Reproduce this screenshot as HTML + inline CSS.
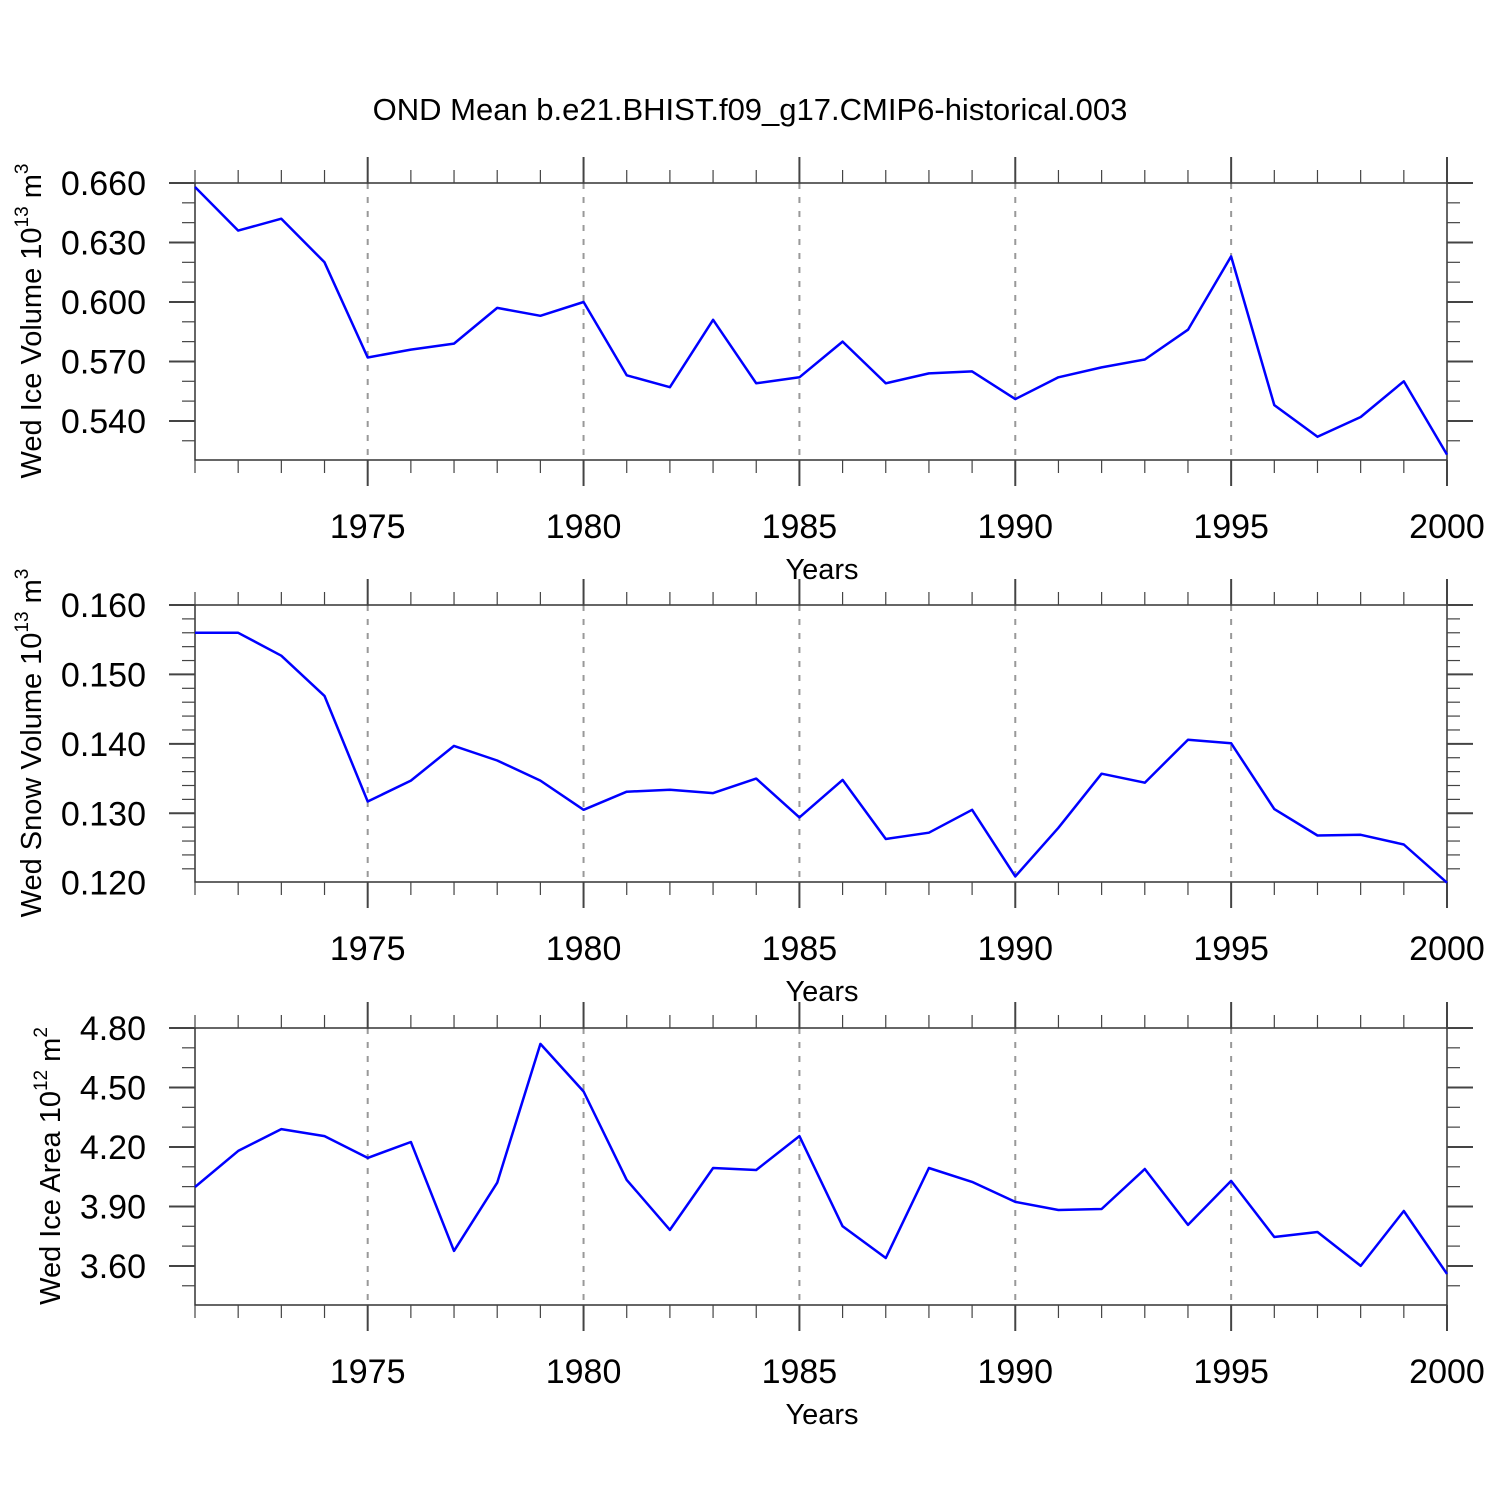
<!DOCTYPE html>
<html><head><meta charset="utf-8"><style>
html,body{margin:0;padding:0;background:#fff;}
svg{display:block;font-family:"Liberation Sans",sans-serif;}
</style></head><body>
<svg id="chart" width="1500" height="1500" viewBox="0 0 1500 1500" xmlns="http://www.w3.org/2000/svg">
<rect width="1500" height="1500" fill="#fff"/>
<text x="750" y="120" font-size="31" text-anchor="middle">OND Mean b.e21.BHIST.f09_g17.CMIP6-historical.003</text>
</svg>
<script>
const years = [1971,1972,1973,1974,1975,1976,1977,1978,1979,1980,1981,1982,1983,1984,1985,1986,1987,1988,1989,1990,1991,1992,1993,1994,1995,1996,1997,1998,1999,2000];
const iceVolume = [0.658,0.636,0.642,0.620,0.572,0.576,0.579,0.597,0.593,0.600,0.563,0.557,0.591,0.559,0.562,0.580,0.559,0.564,0.565,0.551,0.562,0.567,0.571,0.586,0.623,0.548,0.532,0.542,0.560,0.523];
const snowVolume = [0.1560,0.1560,0.1527,0.1469,0.1317,0.1347,0.1397,0.1376,0.1347,0.1305,0.1331,0.1334,0.1329,0.1350,0.1294,0.1348,0.1263,0.1272,0.1305,0.1209,0.1279,0.1357,0.1344,0.1406,0.1401,0.1306,0.1268,0.1269,0.1255,0.1200];
const iceArea = [3.998,4.18,4.29,4.255,4.145,4.225,3.676,4.02,4.72,4.48,4.034,3.782,4.094,4.084,4.255,3.80,3.64,4.094,4.024,3.923,3.882,3.887,4.089,3.807,4.029,3.746,3.771,3.60,3.877,3.56];
const xTickLabels = [1975,1980,1985,1990,1995,2000];
const iceVolumeTicks = [0.540,0.570,0.600,0.630,0.660];
const snowVolumeTicks = [0.120,0.130,0.140,0.150,0.160];
const iceAreaTicks = [3.60,3.90,4.20,4.50,4.80];

const NS = "http://www.w3.org/2000/svg";
const svg = document.getElementById('chart');
const X0 = 195, X1 = 1447;
function xs(yr){ return X0 + (yr - 1971) / (2000 - 1971) * (X1 - X0); }
function mk(tag, attrs, parent){
  const e = document.createElementNS(NS, tag);
  for (const k in attrs) e.setAttribute(k, attrs[k]);
  (parent || svg).appendChild(e);
  return e;
}

function panel(o){
  const g = mk('g', {});
  
  
  const top = o.top, bot = o.top + 277;
  const ys = v => top + (o.ymax - v) / (o.ymax - o.ymin) * (bot - top);
  xTickLabels.forEach(yr => {
    if (yr === 2000) return;
    const l = mk('line', {x1: xs(yr), x2: xs(yr), y1: top, y2: bot, stroke: '#999', 'stroke-width': 2, 'stroke-dasharray': '6,8'}, g);
    
    
  });
  const fr = mk('rect', {x: X0, y: top, width: X1 - X0, height: bot - top, fill: 'none', stroke: '#333', 'stroke-width': 1.5}, g);
  
  
  years.forEach(yr => {
    const major = yr % 5 === 0;
    const len = major ? 26 : 13;
    const x = xs(yr);
    mk('line', {x1: x, x2: x, y1: top, y2: top - len, stroke: '#444', 'stroke-width': major ? 2 : 1.2}, g);
    mk('line', {x1: x, x2: x, y1: bot, y2: bot + len, stroke: '#444', 'stroke-width': major ? 2 : 1.2}, g);
  });
  xTickLabels.forEach(yr => {
    const t = mk('text', {x: xs(yr), y: bot + 78, 'font-size': 34, 'text-anchor': 'middle'}, g);
    t.textContent = yr;
    
    
  });
  const step = o.ticks[1] - o.ticks[0];
  const mstep = step / o.sub;
  for (let v = o.ticks[o.ticks.length - 1]; v >= o.ymin - 1e-9; v -= mstep) {
    const y = ys(v);
    const isMajor = o.ticks.some(t => Math.abs(t - v) < mstep / 10);
    const len = isMajor ? 26 : 13;
    mk('line', {x1: X0, x2: X0 - len, y1: y, y2: y, stroke: '#444', 'stroke-width': isMajor ? 2 : 1.2}, g);
    mk('line', {x1: X1, x2: X1 + len, y1: y, y2: y, stroke: '#444', 'stroke-width': isMajor ? 2 : 1.2}, g);
  }
  o.ticks.forEach(v => {
    const t = mk('text', {x: 146, y: ys(v) + 12, 'font-size': 34, 'text-anchor': 'end'}, g);
    t.textContent = v.toFixed(o.dec);
    
    
  });
  const xt = mk('text', {x: 822, y: bot + 119, 'font-size': 29, 'text-anchor': 'middle'}, g);
  xt.textContent = 'Years';
  
  
  const yt = mk('text', {x: 0, y: 0, 'font-size': 29, 'text-anchor': 'middle', transform: `translate(${o.ytx},${top + o.yc}) rotate(-90)`}, g);
  yt.innerHTML = o.ytitle;
  
  
  const pts = years.map((yr, i) => xs(yr).toFixed(1) + ',' + ys(o.data[i]).toFixed(1)).join(' ');
  const pl = mk('polyline', {points: pts, fill: 'none', stroke: '#0000ff', 'stroke-width': 2.5, 'stroke-linejoin': 'round'}, g);
  
  
}

panel({name: 'ice-volume-panel', top: 183, ymin: 0.5203, ymax: 0.660, ticks: iceVolumeTicks, sub: 3, dec: 3, data: iceVolume, ytx: 41, yc: 138,
  ytitle: 'Wed Ice Volume 10<tspan dy="-13" font-size="19">13</tspan><tspan dy="13"> m</tspan><tspan dy="-13" font-size="19">3</tspan>'});
panel({name: 'snow-volume-panel', top: 605, ymin: 0.1201, ymax: 0.160, ticks: snowVolumeTicks, sub: 5, dec: 3, data: snowVolume, ytx: 41, yc: 138,
  ytitle: 'Wed Snow Volume 10<tspan dy="-13" font-size="19">13</tspan><tspan dy="13"> m</tspan><tspan dy="-13" font-size="19">3</tspan>'});
panel({name: 'ice-area-panel', top: 1028, ymin: 3.403, ymax: 4.80, ticks: iceAreaTicks, sub: 3, dec: 2, data: iceArea, ytx: 60, yc: 138,
  ytitle: 'Wed Ice Area 10<tspan dy="-13" font-size="19">12</tspan><tspan dy="13"> m</tspan><tspan dy="-13" font-size="19">2</tspan>'});
</script>
</body></html>
